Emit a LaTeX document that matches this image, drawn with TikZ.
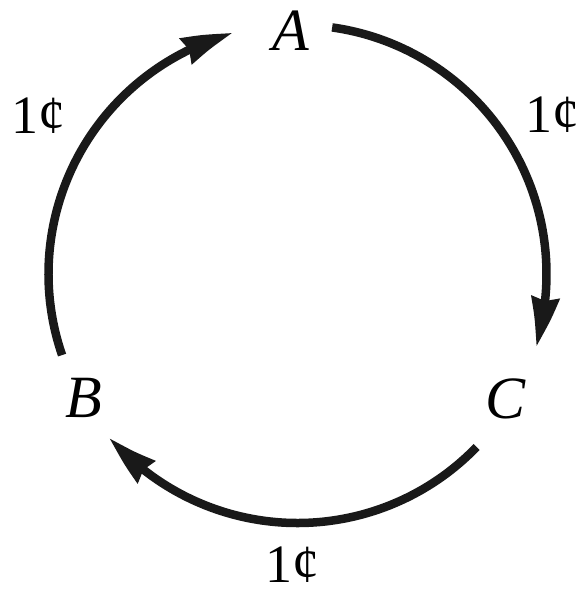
\documentclass[tikz,border=0pt]{standalone}
\usepackage{fontspec}
\setmainfont{Liberation Serif}
\usetikzlibrary{arrows.meta,calc,bending}
\begin{document}
\begin{tikzpicture}[x=1pt,y=1pt,
  vlabel/.style={inner sep=0pt, anchor=base, font=\fontsize{60}{62}\selectfont\itshape},
  clabel/.style={inner sep=0pt, anchor=base, font=\fontsize{54}{56}\selectfont},
  arcline/.style={line width=8.5pt, draw=black!90},
  arrowline/.style={arcline, -{Stealth[length=50pt, width=27pt, inset=3pt, bend]}}]
\useasboundingbox (0,0) rectangle (582,-594);
\coordinate (O) at (297.5,-274);
\node[vlabel] (A) at (291,-51) {A};
\node[vlabel] (B) at (84,-417) {B};
\node[vlabel] (C) at (506,-418) {C};
\node[clabel] (l1) at (39,-133) {1¢};
\node[clabel] (l2) at (552,-132) {1¢};
\node[clabel] (l3) at (292,-582) {1¢};
\coordinate (sBA) at ($(O)+(199:249)$);
\coordinate (sAC) at ($(O)+(82:249)$);
\coordinate (sCB) at ($(O)+(-44:249)$);
\draw[arrowline] (sBA) arc[start angle=199, end angle=105, radius=249];
\draw[arrowline] (sAC) arc[start angle=82, end angle=-17, radius=249];
\draw[arrowline] (sCB) arc[start angle=-44, end angle=-139, radius=249];
\end{tikzpicture}
\end{document}
